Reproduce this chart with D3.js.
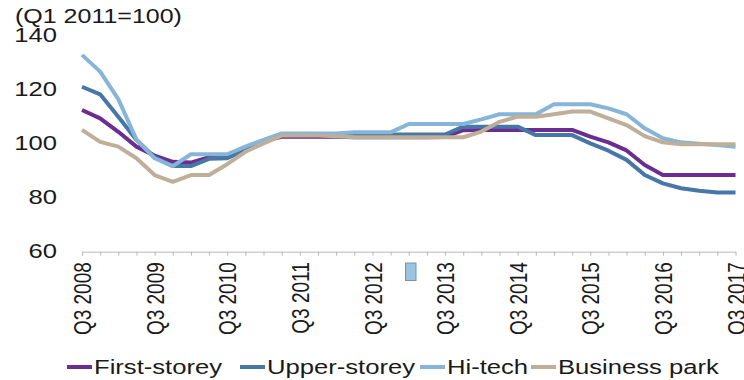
<!DOCTYPE html>
<html>
<head>
<meta charset="utf-8">
<script src="https://cdn.jsdelivr.net/npm/d3@7"></script>
<style>
  html, body { margin: 0; padding: 0; background: #fff; }
  svg { display: block; font-family: "Liberation Sans", Arial, sans-serif; }
</style>
</head>
<body>
<svg id="chart" width="744" height="380"></svg>
<script>
// Quarterly rental index, Q3 2008 - Q3 2017 (Q1 2011 = 100)
const quarters = [
  "Q3 2008","Q4 2008","Q1 2009","Q2 2009","Q3 2009","Q4 2009","Q1 2010","Q2 2010",
  "Q3 2010","Q4 2010","Q1 2011","Q2 2011","Q3 2011","Q4 2011","Q1 2012","Q2 2012",
  "Q3 2012","Q4 2012","Q1 2013","Q2 2013","Q3 2013","Q4 2013","Q1 2014","Q2 2014",
  "Q3 2014","Q4 2014","Q1 2015","Q2 2015","Q3 2015","Q4 2015","Q1 2016","Q2 2016",
  "Q3 2016","Q4 2016","Q1 2017","Q2 2017","Q3 2017"
];

const firstStorey = [
  112.5, 109.4, 104.4, 98.9, 95.6, 93.3, 93.0, 95.0,
  95.2, 98.5, 101.0, 102.6, 102.6, 102.6, 102.6, 102.4,
  102.4, 102.4, 102.4, 102.4, 102.5, 105.0, 105.1, 105.1,
  105.1, 105.1, 105.1, 105.1, 102.6, 100.5, 97.5, 92.1,
  88.4, 88.4, 88.4, 88.4, 88.4
];

const upperStorey = [
  121.1, 118.3, 110.0, 101.4, 95.0, 91.7, 91.7, 94.4,
  94.6, 97.7, 101.0, 103.4, 103.4, 103.4, 103.4, 103.4,
  103.4, 103.4, 103.4, 103.4, 103.4, 106.3, 106.3, 106.3,
  106.3, 103.2, 103.2, 103.2, 100.1, 97.4, 94.0, 88.4,
  85.3, 83.5, 82.6, 81.9, 81.9
];

const hiTech = [
  132.9, 126.7, 116.5, 101.5, 94.6, 91.7, 96.1, 96.1,
  96.1, 98.9, 101.4, 103.8, 103.8, 103.8, 103.8, 104.2,
  104.2, 104.2, 107.3, 107.3, 107.3, 107.3, 109.0, 110.9,
  110.9, 110.9, 114.6, 114.6, 114.6, 113.1, 110.9, 105.7,
  102.0, 100.5, 100.0, 99.5, 98.9
];

const businessPark = [
  105.1, 100.7, 98.9, 94.6, 88.4, 85.9, 88.4, 88.4,
  92.4, 97.0, 100.1, 103.0, 103.0, 103.0, 102.8, 102.4,
  102.4, 102.4, 102.4, 102.4, 102.4, 102.4, 104.5, 108.1,
  110.0, 110.0, 110.9, 111.9, 111.9, 109.4, 106.9, 102.8,
  100.5, 99.8, 99.8, 99.8, 99.8
];

const seriesNames = ["First-storey", "Upper-storey", "Hi-tech", "Business park"];
const seriesValues = [firstStorey, upperStorey, hiTech, businessPark];
const seriesColors = ["#6b2d8f", "#4777a6", "#87b5d9", "#bfae98"];

const yTicks = [60, 80, 100, 120, 140];
const yLabel = "(Q1 2011=100)";

// Layout
const svg = d3.select("#chart");
const plotLeft = 82, plotRight = 735.5, plotTop = 35.7, plotBottom = 251.7;
const stretch = "scale(1.25,1)";   // wide type used throughout

const x = d3.scaleLinear().domain([0, quarters.length - 1]).range([plotLeft, plotRight]);
const y = d3.scaleLinear().domain([60, 140]).range([plotBottom, plotTop]);

// Y axis: labels only
const yAxis = svg.append("g")
  .attr("transform", `translate(${plotLeft},0)`)
  .call(d3.axisLeft(y).tickValues(yTicks).tickSize(0).tickPadding(20).tickFormat(d3.format("d")));
yAxis.select(".domain").remove();
yAxis.selectAll("text")
  .attr("font-size", 20.5)
  .attr("fill", "#1a1a1a")
  .attr("font-family", "Liberation Sans, Arial, sans-serif")
  .attr("dy", "0.3em")
  .attr("transform", stretch);

// Unit label
svg.append("text")
  .attr("transform", `translate(15,22.5) ${stretch}`)
  .attr("font-size", 20)
  .attr("fill", "#1a1a1a")
  .text(yLabel);

// X axis: a tick for every quarter, a label every fourth quarter
const xAxis = svg.append("g")
  .attr("transform", `translate(0,${plotBottom})`)
  .call(d3.axisBottom(x)
    .tickValues(d3.range(quarters.length))
    .tickSize(4)
    .tickSizeOuter(0)
    .tickFormat(i => (i % 4 === 0 ? quarters[i] : "")));
xAxis.select(".domain").attr("stroke", "#b8b8b8").attr("stroke-width", 1);
xAxis.selectAll("line").attr("stroke", "#b8b8b8").attr("stroke-width", 1);
xAxis.selectAll("text")
  .attr("y", null)
  .attr("dy", "0.36em")
  .attr("font-size", 19)
  .attr("fill", "#1a1a1a")
  .attr("font-family", "Liberation Sans, Arial, sans-serif")
  .attr("text-anchor", "end")
  .attr("transform", `translate(0,10.5) ${stretch} rotate(-90)`);

// Small marker sitting in the label row
svg.append("rect")
  .attr("x", 405.5).attr("y", 263)
  .attr("width", 10.5).attr("height", 17.5)
  .attr("fill", "#9dc2df")
  .attr("stroke", "#7493ad")
  .attr("stroke-width", 1);

// Series lines
const line = d3.line()
  .x((d, i) => x(i))
  .y(d => y(d));

svg.append("g")
  .selectAll("path")
  .data(seriesValues)
  .join("path")
  .attr("d", line)
  .attr("fill", "none")
  .attr("stroke", (d, i) => seriesColors[i])
  .attr("stroke-width", 4)
  .attr("stroke-linejoin", "round");

// Legend
const legendX = [67, 240, 420, 531];
const legendY = 367;
const legend = svg.append("g")
  .selectAll("g")
  .data(seriesNames)
  .join("g")
  .attr("transform", (d, i) => `translate(${legendX[i]},${legendY})`);
legend.append("line")
  .attr("x1", 0).attr("x2", 25)
  .attr("y1", 0).attr("y2", 0)
  .attr("stroke", (d, i) => seriesColors[i])
  .attr("stroke-width", 4);
legend.append("text")
  .attr("transform", `translate(27,7.2) ${stretch}`)
  .attr("font-size", 20.5)
  .attr("fill", "#1a1a1a")
  .text(d => d);
</script>
</body>
</html>
